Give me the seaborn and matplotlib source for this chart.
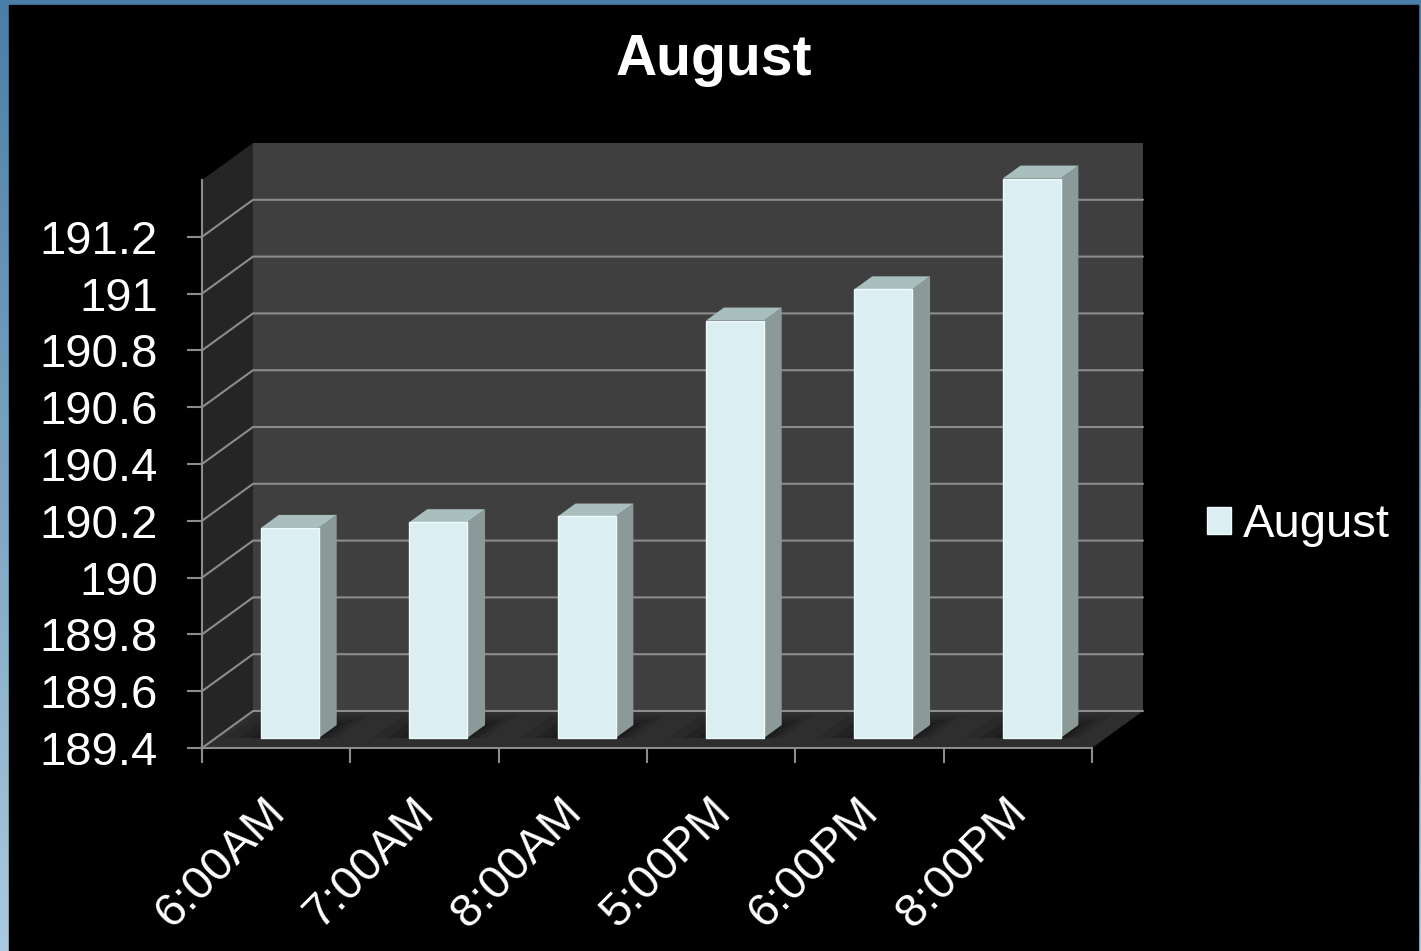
import numpy as np
import matplotlib.pyplot as plt
import seaborn as sns
from matplotlib.patches import Polygon, Rectangle
from matplotlib.lines import Line2D
from matplotlib.transforms import IdentityTransform, ScaledTranslation
from matplotlib.colors import LinearSegmentedColormap

# data
times = ["6:00AM", "7:00AM", "8:00AM", "5:00PM", "6:00PM", "8:00PM"]
august = [190.14, 190.16, 190.18, 190.87, 190.98, 191.37]
y_ticks = [189.4, 189.6, 189.8, 190.0, 190.2, 190.4, 190.6, 190.8, 191.0, 191.2]
y_labels = ["189.4", "189.6", "189.8", "190", "190.2", "190.4", "190.6", "190.8", "191", "191.2"]
y_min, y_max = 189.4, 191.4

sns.set_theme(style="dark")
plt.rcParams['font.family'] = ['Liberation Sans', 'DejaVu Sans']

W, H, DPI = 1421, 951, 100
GRID = '#8c8c8c'
FRONT, SIDE, TOP = '#dbeef2', '#8b9999', '#a9bfbe'

fig = plt.figure(figsize=(W / DPI, H / DPI), dpi=DPI)

# slide background: blue gradient frame, black inside
bg = fig.add_axes([0, 0, 1, 1], zorder=-10)
grad = np.linspace(0, 1, 256).reshape(-1, 1)
frame_cmap = LinearSegmentedColormap.from_list('frame', ['#4a7ea6', '#abcadd'])
bg.imshow(grad, cmap=frame_cmap, aspect='auto', extent=[0, 1, 0, 1], origin='upper')
bg.add_patch(Rectangle((9 / W, 0), (1418 - 9) / W, (H - 5) / H, color='black'))
bg.set_xlim(0, 1)
bg.set_ylim(0, 1)
bg.axis('off')

# front plane of the 3d box
x0, x1, yb, yt = 202, 1092, 748, 180
ax = fig.add_axes([x0 / W, 1 - yb / H, (x1 - x0) / W, (yb - yt) / H])
ax.patch.set_visible(False)

sns.barplot(x=times, y=august, color=FRONT, saturation=1, width=0.39,
            label='August', ax=ax, zorder=3)
ax.set_xlim(-0.5, 5.5)
ax.set_ylim(y_min, y_max)

# depth of the box in pixels, and where the bars sit inside it
DX, DY = 51, 37
d_front, d_back = 0.27, 0.62


def to_px(x, y, d):
    X, Y = ax.transData.transform((x, y))
    return (X + d * DX, Y + d * DY)


def face(pts, color, z, alpha=1.0):
    ax.add_patch(Polygon(pts, closed=True, facecolor=color, edgecolor='none', alpha=alpha,
                         transform=IdentityTransform(), clip_on=False, zorder=z))


def line(pts, z):
    xs, ys = zip(*pts)
    ax.add_line(Line2D(xs, ys, color=GRID, lw=1.5, transform=IdentityTransform(),
                       clip_on=False, zorder=z))


# walls and floor
face([to_px(-0.5, y_min, 1), to_px(5.5, y_min, 1), to_px(5.5, y_max, 1), to_px(-0.5, y_max, 1)], '#3f3f3f', 0.1)
face([to_px(-0.5, y_min, 0), to_px(-0.5, y_max, 0), to_px(-0.5, y_max, 1), to_px(-0.5, y_min, 1)], '#252525', 0.1)
face([to_px(-0.5, y_min, 0), to_px(5.5, y_min, 0), to_px(5.5, y_min, 1), to_px(-0.5, y_min, 1)], '#2e2e2e', 0.2)
for v in y_ticks:
    line([to_px(-0.5, v, 0), to_px(-0.5, v, 1), to_px(5.5, v, 1)], 0.3)

# bars: seaborn front faces pushed back into the box, plus side and top faces
front_off = ScaledTranslation(d_front * DX / DPI, d_front * DY / DPI, fig.dpi_scale_trans)
for bar in ax.containers[0]:
    h = bar.get_height()
    xl = bar.get_x()
    xr = xl + bar.get_width()
    bar.set_y(y_min)
    bar.set_height(h - y_min)
    bar.set_transform(ax.transData + front_off)
    bar.set_clip_on(False)
    bar.set_edgecolor('#eefbfd')
    bar.set_linewidth(1)
    # soft shadow on the floor
    for k, a in [(0.25, 0.2), (0.15, 0.3), (0.06, 0.4)]:
        face([to_px(xl - k, y_min, d_front), to_px(xr + k * 0.5, y_min, d_front),
              to_px(xr + k * 0.5, y_min, min(d_back + k, 1)), to_px(xl - k, y_min, min(d_back + k, 1))],
             '#151515', 0.25, alpha=a)
    face([to_px(xr, y_min, d_front), to_px(xr, h, d_front), to_px(xr, h, d_back), to_px(xr, y_min, d_back)], SIDE, 2.9)
    face([to_px(xl, h, d_front), to_px(xr, h, d_front), to_px(xr, h, d_back), to_px(xl, h, d_back)], TOP, 2.9)

# front axes
for s in ['top', 'right']:
    ax.spines[s].set_visible(False)
for s in ['left', 'bottom']:
    ax.spines[s].set_color(GRID)
    ax.spines[s].set_linewidth(1.5)
    ax.spines[s].set_zorder(4)

ax.set_yticks(y_ticks, labels=y_labels)
ax.set_xticks(np.arange(-0.5, 6, 1), labels=[''] * 7)
ax.set_xticks(range(len(times)), labels=times, minor=True, rotation=45,
              ha='right', va='baseline', rotation_mode='anchor')
ax.tick_params(axis='y', direction='out', length=10.8, width=1.5, color=GRID,
               labelcolor='white', labelsize=34, pad=21, left=True)
ax.tick_params(axis='x', which='major', direction='out', length=10.8, width=1.5,
               color=GRID, bottom=True)
ax.tick_params(axis='x', which='minor', length=0, labelcolor='white', labelsize=34, pad=47)
# category labels sit a little right of the slot centre, like the 3d bars
label_shift = ScaledTranslation(11 / DPI, 0, fig.dpi_scale_trans)
for lab in ax.xaxis.get_minorticklabels():
    lab.set_transform(lab.get_transform() + label_shift)
ax.set_xlabel('')
ax.set_ylabel('')
ax.grid(False)

fig.text(714 / W, 1 - 60 / H, 'August', ha='center', va='center',
         fontsize=41, fontweight='bold', color='white')

ax.legend(loc='center left', bbox_to_anchor=(1207 / W, 1 - 525 / H), bbox_transform=fig.transFigure,
          frameon=False, fontsize=34, labelcolor='white', handlelength=0.5, handleheight=0.5,
          handletextpad=0.25, borderpad=0, borderaxespad=0)

fig.savefig('out.png', dpi=DPI)
